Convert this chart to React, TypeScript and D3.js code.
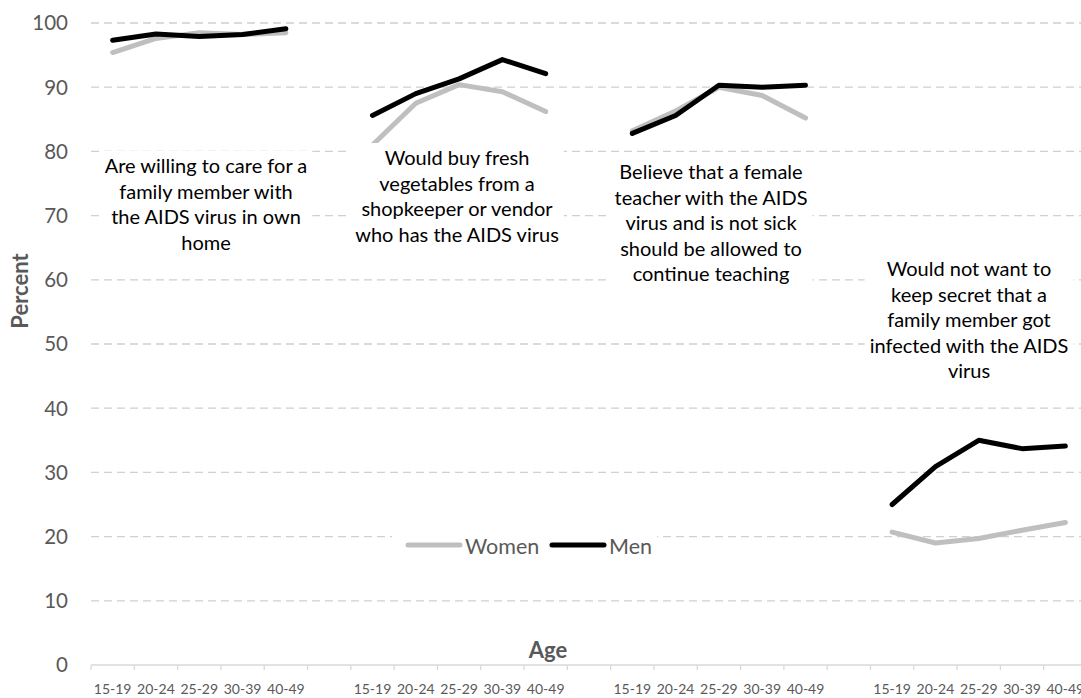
import { useEffect, useRef } from 'react';
import * as d3 from 'd3';

const ageGroups = ['15-19', '20-24', '25-29', '30-39', '40-49'];
const indicators = ['care', 'vegetables', 'teacher', 'secret'];

const women = [
  [95.4, 97.6, 98.5, 98.2, 98.5],
  [81.0, 87.5, 90.4, 89.3, 86.2],
  [83.2, 86.3, 90.0, 88.7, 85.2],
  [20.7, 19.0, 19.7, 21.0, 22.2],
];
const men = [
  [97.3, 98.3, 97.9, 98.2, 99.1],
  [85.6, 89.0, 91.3, 94.3, 92.1],
  [82.8, 85.6, 90.3, 90.0, 90.3],
  [25.0, 30.9, 35.0, 33.7, 34.1],
];

const captions = [
  ['Are willing to care for a', 'family member with', 'the AIDS virus in own', 'home'],
  ['Would buy fresh', 'vegetables from a', 'shopkeeper or vendor', 'who has the AIDS virus'],
  ['Believe that a female', 'teacher with the AIDS', 'virus and is not sick', 'should be allowed to', 'continue teaching'],
  ['Would not want to', 'keep secret that a', 'family member got', 'infected with the AIDS', 'virus'],
];

const yTicks = [0, 10, 20, 30, 40, 50, 60, 70, 80, 90, 100];

// caption placement (pixel center x, first line center y)
const captionPos = [
  { cx: 206, y: 166 },
  { cx: 457, y: 158 },
  { cx: 711, y: 172 },
  { cx: 969, y: 269 },
];

const W = 1081;
const H = 698;
const FONT = 'Lato, "Open Sans", sans-serif';
const GREY_TXT = '#595959';
const WOMEN_C = '#bfbfbf';
const MEN_C = '#000000';

const App = () => {
  const svgRef = useRef<SVGSVGElement>(null);

  useEffect(() => {
    if (!svgRef.current) return;
    const svg = d3.select(svgRef.current);
    svg.selectAll('*').remove();

    // slots: 5 ages per indicator, blank slot between indicators
    const slots: string[] = [];
    indicators.forEach((ind, i) => {
      ageGroups.forEach((a) => slots.push(`${ind}|${a}`));
      if (i < indicators.length - 1) slots.push(`gap${i}`);
    });

    const x = d3.scaleBand().domain(slots).range([91, 1087]).padding(0);
    const y = d3.scaleLinear().domain([0, 100]).range([665, 23]);
    const cx = (k: string) => (x(k) ?? 0) + x.bandwidth() / 2;

    // gridlines
    svg
      .append('g')
      .selectAll('line')
      .data(yTicks.filter((t) => t > 0))
      .join('line')
      .attr('x1', 91)
      .attr('x2', W)
      .attr('y1', (d) => y(d))
      .attr('y2', (d) => y(d))
      .attr('stroke', '#d0d0d0')
      .attr('stroke-width', 1.3)
      .attr('stroke-dasharray', '8,5');

    // y tick labels
    svg
      .append('g')
      .selectAll('text')
      .data(yTicks)
      .join('text')
      .attr('x', 68)
      .attr('y', (d) => y(d))
      .attr('dy', '0.36em')
      .attr('text-anchor', 'end')
      .attr('font-family', FONT)
      .attr('font-size', 20.5)
      .attr('fill', GREY_TXT)
      .text((d) => d);

    // x axis
    svg
      .append('line')
      .attr('x1', 91)
      .attr('x2', W)
      .attr('y1', y(0))
      .attr('y2', y(0))
      .attr('stroke', '#d9d9d9')
      .attr('stroke-width', 1.3);
    const bounds = slots.map((s) => x(s) ?? 0).concat([x.range()[1]]);
    svg
      .append('g')
      .selectAll('line')
      .data(bounds)
      .join('line')
      .attr('x1', (d) => d)
      .attr('x2', (d) => d)
      .attr('y1', y(0))
      .attr('y2', y(0) + 5)
      .attr('stroke', '#d9d9d9')
      .attr('stroke-width', 1.3);
    svg
      .append('g')
      .selectAll('text')
      .data(slots.filter((s) => !s.startsWith('gap')))
      .join('text')
      .attr('x', (d) => cx(d))
      .attr('y', 689)
      .attr('dy', '0.35em')
      .attr('text-anchor', 'middle')
      .attr('font-family', FONT)
      .attr('font-size', 14)
      .attr('fill', GREY_TXT)
      .text((d) => d.split('|')[1]);

    // axis titles
    svg
      .append('text')
      .attr('transform', `translate(20,291) rotate(-90)`)
      .attr('text-anchor', 'middle')
      .attr('dy', '0.35em')
      .attr('font-family', FONT)
      .attr('font-weight', 'bold')
      .attr('font-size', 22)
      .attr('fill', GREY_TXT)
      .text('Percent');
    svg
      .append('text')
      .attr('x', 548)
      .attr('y', 650)
      .attr('dy', '0.35em')
      .attr('text-anchor', 'middle')
      .attr('font-family', FONT)
      .attr('font-weight', 'bold')
      .attr('font-size', 22)
      .attr('fill', GREY_TXT)
      .text('Age');

    // series lines
    const line = d3
      .line<[string, number]>()
      .x((d) => cx(d[0]))
      .y((d) => y(d[1]));
    const series = [
      { name: 'Women', data: women, color: WOMEN_C },
      { name: 'Men', data: men, color: MEN_C },
    ];
    series.forEach((s) => {
      indicators.forEach((ind, i) => {
        const pts = ageGroups.map((a, j) => [`${ind}|${a}`, s.data[i][j]] as [string, number]);
        svg
          .append('path')
          .attr('d', line(pts))
          .attr('fill', 'none')
          .attr('stroke', s.color)
          .attr('stroke-width', 5)
          .attr('stroke-linecap', 'round')
          .attr('stroke-linejoin', 'round');
      });
    });

    // captions with white boxes
    captions.forEach((lines, i) => {
      const g = svg.append('g');
      const rect = g.append('rect').attr('fill', '#fff');
      const t = g
        .append('text')
        .attr('font-family', FONT)
        .attr('font-size', 20)
        .attr('fill', '#000')
        .attr('text-anchor', 'middle');
      lines.forEach((l, k) => {
        t.append('tspan')
          .attr('x', captionPos[i].cx)
          .attr('y', captionPos[i].y + k * 25.6)
          .attr('dy', '0.35em')
          .text(l);
      });
      const bb = (t.node() as SVGTextElement).getBBox();
      rect
        .attr('x', bb.x - 5)
        .attr('y', bb.y - 2)
        .attr('width', bb.width + 10)
        .attr('height', bb.height + 3);
    });

    // legend
    const lg = svg.append('g');
    lg.append('rect').attr('x', 392).attr('y', 532).attr('width', 265).attr('height', 26).attr('fill', '#fff');
    const items = [
      { name: 'Women', color: WOMEN_C, x0: 408 },
      { name: 'Men', color: MEN_C, x0: 552 },
    ];
    items.forEach((it) => {
      lg.append('line')
        .attr('x1', it.x0)
        .attr('x2', it.x0 + 52)
        .attr('y1', 545)
        .attr('y2', 545)
        .attr('stroke', it.color)
        .attr('stroke-width', 5)
        .attr('stroke-linecap', 'round');
      lg.append('text')
        .attr('x', it.x0 + 57)
        .attr('y', 546)
        .attr('dy', '0.36em')
        .attr('font-family', FONT)
        .attr('font-size', 21.5)
        .attr('fill', GREY_TXT)
        .text(it.name);
    });
  }, []);

  return (
    <div>
      <svg
        ref={svgRef}
        width={W}
        height={H}
        style={{ position: 'absolute', left: 0, top: 0, background: '#fff' }}
      />
    </div>
  );
};

export default App;
